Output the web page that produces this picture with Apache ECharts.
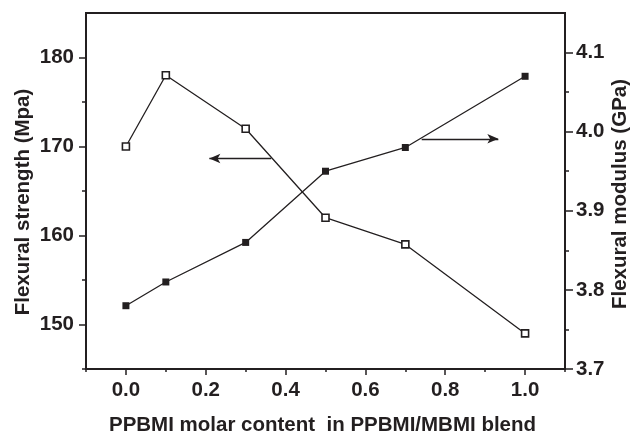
<!DOCTYPE html>
<html>
<head>
<meta charset="utf-8">
<style>
  html, body { margin: 0; padding: 0; background: #fff; }
  #chart { width: 634px; height: 435px; }
</style>
<script src="https://cdn.jsdelivr.net/npm/echarts@6/dist/echarts.min.js"></script>
</head>
<body>
<div id="chart"></div>
<script>
// PPBMI molar fraction in the PPBMI/MBMI blend
const molarContent = [0.0, 0.1, 0.3, 0.5, 0.7, 1.0];
// Flexural strength, MPa (open squares, left axis)
const flexStrength = [170, 178, 172, 162, 159, 149];
// Flexural modulus, GPa (filled squares, right axis)
const flexModulus = [3.78, 3.81, 3.86, 3.95, 3.98, 4.07];

// Tick positions
const xMajorTicks = [0.0, 0.2, 0.4, 0.6, 0.8, 1.0];
const xMinorTicks = [-0.1, 0.1, 0.3, 0.5, 0.7, 0.9, 1.1];
const strengthMajorTicks = [150, 160, 170, 180];
const strengthMinorTicks = [145, 155, 165, 175];
const modulusMajorTicks = [3.7, 3.8, 3.9, 4.0, 4.1];
const modulusMinorTicks = [3.75, 3.85, 3.95, 4.05];

// Arrow annotations pointing each curve to its axis: [xTail, xHead, y]
const strengthArrow = [0.364, 0.209, 168.65];
const modulusArrow = [0.741, 0.933, 3.991];

const INK = '#231f20';
const FONT = '"Liberation Sans", Arial, sans-serif';

const labelStyle = { color: INK, fontFamily: FONT, fontWeight: 'bold', fontSize: 20.5 };
const nameStyle = { color: INK, fontFamily: FONT, fontWeight: 'bold', fontSize: 20.5 };

function pairs(xs, ys) { return xs.map((x, i) => [x, ys[i]]); }

function minorAxis(base, position, values, len) {
  return Object.assign({}, base, {
    position: position,
    name: '',
    axisLine: { show: false, onZero: false },
    axisLabel: { show: false },
    axisTick: { show: true, inside: false, length: len, customValues: values,
                lineStyle: { color: INK, width: 1.5 } },
    splitLine: { show: false }
  });
}

const xBase = { type: 'value', min: -0.1, max: 1.1, gridIndex: 0 };
const ySBase = { type: 'value', min: 145, max: 185, gridIndex: 0 };
const yMBase = { type: 'value', min: 3.7, max: 4.15, gridIndex: 0 };

function arrowLine(a) {
  return {
    silent: true,
    symbol: ['none', 'arrow'],
    symbolSize: [7, 11],
    label: { show: false },
    lineStyle: { color: INK, width: 1.3, type: 'solid' },
    emphasis: { disabled: true },
    animation: false,
    data: [[{ coord: [a[0], a[2]] }, { coord: [a[1], a[2]] }]]
  };
}

const option = {
  animation: false,
  backgroundColor: '#fff',
  grid: {
    left: 86, right: 69, top: 13, bottom: 66,
    containLabel: false,
    outerBoundsMode: 'none',
    show: true, borderColor: INK, borderWidth: 2, backgroundColor: 'transparent'
  },
  xAxis: [
    Object.assign({}, xBase, {
      position: 'bottom',
      name: 'PPBMI molar content  in PPBMI/MBMI blend',
      nameLocation: 'middle',
      nameGap: 46,
      nameMoveOverlap: false,
      nameTextStyle: Object.assign({ padding: [0, 6, 0, 0] }, nameStyle),
      axisLine: { show: true, onZero: false, lineStyle: { color: INK, width: 2 } },
      axisTick: { show: true, length: 6, customValues: xMajorTicks,
                  lineStyle: { color: INK, width: 1.5 } },
      axisLabel: Object.assign({ margin: 11, customValues: xMajorTicks,
                  formatter: v => v.toFixed(1) }, labelStyle),
      splitLine: { show: false }
    }),
    minorAxis(xBase, 'bottom', xMinorTicks, 3)
  ],
  yAxis: [
    Object.assign({}, ySBase, {
      position: 'left',
      name: 'Flexural strength (Mpa)',
      nameLocation: 'middle',
      nameGap: 52,
      nameMoveOverlap: false,
      nameRotate: 90,
      nameTextStyle: Object.assign({ padding: [0, 22, 0, 0] }, nameStyle),
      axisLine: { show: true, onZero: false, lineStyle: { color: INK, width: 2 } },
      axisTick: { show: true, length: 7, customValues: strengthMajorTicks,
                  lineStyle: { color: INK, width: 1.5 } },
      axisLabel: Object.assign({ margin: 12, customValues: strengthMajorTicks }, labelStyle),
      splitLine: { show: false }
    }),
    Object.assign({}, yMBase, {
      position: 'right',
      name: 'Flexural modulus (GPa)',
      nameLocation: 'middle',
      nameGap: 45,
      nameMoveOverlap: false,
      nameRotate: 90,
      nameTextStyle: Object.assign({ padding: [0, 6, 0, 0] }, nameStyle),
      axisLine: { show: true, onZero: false, lineStyle: { color: INK, width: 2 } },
      axisTick: { show: true, length: 8, customValues: modulusMajorTicks,
                  lineStyle: { color: INK, width: 1.5 } },
      axisLabel: Object.assign({ margin: 11, customValues: modulusMajorTicks,
                  formatter: v => v.toFixed(1) }, labelStyle),
      splitLine: { show: false }
    }),
    minorAxis(ySBase, 'left', strengthMinorTicks, 4),
    minorAxis(yMBase, 'right', modulusMinorTicks, 4)
  ],
  series: [
    {
      name: 'Flexural strength',
      type: 'line',
      xAxisIndex: 0,
      yAxisIndex: 0,
      data: pairs(molarContent, flexStrength),
      symbol: 'rect',
      symbolSize: 7,
      showAllSymbol: true,
      lineStyle: { color: INK, width: 1.3 },
      itemStyle: { color: '#fff', borderColor: INK, borderWidth: 1.6 },
      emphasis: { disabled: true },
      markLine: arrowLine(strengthArrow),
      z: 3
    },
    {
      name: 'Flexural modulus',
      type: 'line',
      xAxisIndex: 0,
      yAxisIndex: 1,
      data: pairs(molarContent, flexModulus),
      symbol: 'rect',
      symbolSize: 7,
      showAllSymbol: true,
      lineStyle: { color: INK, width: 1.3 },
      itemStyle: { color: INK, borderColor: INK, borderWidth: 0 },
      emphasis: { disabled: true },
      markLine: arrowLine(modulusArrow),
      z: 3
    }
  ]
};

const chart = echarts.init(document.getElementById('chart'), null, { renderer: 'canvas' });
chart.setOption(option);
</script>
</body>
</html>
